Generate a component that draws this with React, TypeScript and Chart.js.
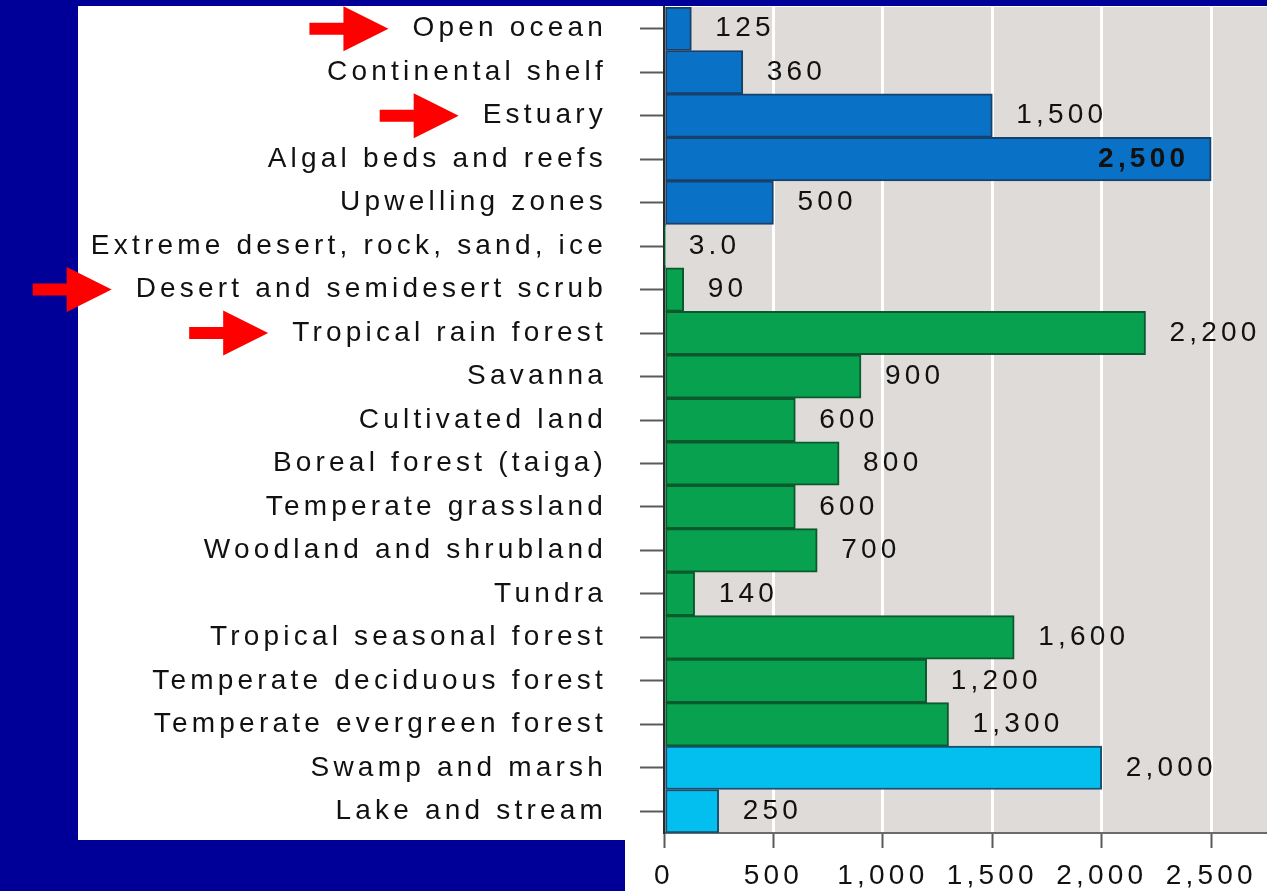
import { useEffect, useRef } from "react";
import { Chart, registerables } from "chart.js";

Chart.register(...registerables);

// Net primary productivity by ecosystem (g/m²/yr)
const categories: string[] = [
  "Open ocean",
  "Continental shelf",
  "Estuary",
  "Algal beds and reefs",
  "Upwelling zones",
  "Extreme desert, rock, sand, ice",
  "Desert and semidesert scrub",
  "Tropical rain forest",
  "Savanna",
  "Cultivated land",
  "Boreal forest (taiga)",
  "Temperate grassland",
  "Woodland and shrubland",
  "Tundra",
  "Tropical seasonal forest",
  "Temperate deciduous forest",
  "Temperate evergreen forest",
  "Swamp and marsh",
  "Lake and stream",
];

const productivity: number[] = [
  125, 360, 1500, 2500, 500, 3.0, 90, 2200, 900, 600, 800, 600, 700, 140, 1600,
  1200, 1300, 2000, 250,
];

// ecosystem group of each category
const groups: string[] = [
  "marine", "marine", "marine", "marine", "marine",
  "terrestrial", "terrestrial", "terrestrial", "terrestrial", "terrestrial",
  "terrestrial", "terrestrial", "terrestrial", "terrestrial", "terrestrial",
  "terrestrial", "terrestrial",
  "freshwater", "freshwater",
];

const highlighted: string[] = [
  "Open ocean",
  "Estuary",
  "Desert and semidesert scrub",
  "Tropical rain forest",
];

const xTickValues: number[] = [0, 500, 1000, 1500, 2000, 2500];

const groupFill: Record<string, string> = {
  marine: "#0a72c6",
  terrestrial: "#08a14f",
  freshwater: "#02bff0",
};
const groupBorder: Record<string, string> = {
  marine: "#17416a",
  terrestrial: "#0b5a2e",
  freshwater: "#1b4f6e",
};

const FONT = "'Liberation Sans', Arial, Helvetica, sans-serif";
const SPACING = "4.2px";
const PAGE_BLUE = "#000099";

const Y_TICK_LEN = 24;
const Y_TICK_PAD = 33;

function formatValue(v: number): string {
  return v < 10 ? v.toFixed(1) : v.toLocaleString("en-US");
}

const spacingPlugin = {
  id: "letterSpacing",
  beforeLayout(chart: any) {
    chart.ctx.letterSpacing = SPACING;
  },
  beforeDraw(chart: any) {
    chart.ctx.letterSpacing = SPACING;
  },
};

const backdropPlugin = {
  id: "backdrop",
  beforeDraw(chart: any) {
    const { ctx, width, height, chartArea } = chart;
    ctx.save();
    ctx.fillStyle = PAGE_BLUE;
    ctx.fillRect(0, 0, width, height);
    ctx.fillStyle = "#ffffff";
    // label panel
    ctx.fillRect(78, 6, 625 - 78, 840 - 6);
    // axis panel
    ctx.fillRect(625, 6, width - 625, height - 6);
    ctx.fillStyle = "#dfdbd8";
    ctx.fillRect(
      chartArea.left,
      chartArea.top,
      chartArea.right - chartArea.left,
      chartArea.bottom - chartArea.top
    );
    ctx.restore();
  },
};

const valueLabelPlugin = {
  id: "valueLabels",
  afterDatasetsDraw(chart: any) {
    const { ctx, chartArea } = chart;
    const meta = chart.getDatasetMeta(0);
    ctx.save();
    ctx.letterSpacing = SPACING;
    ctx.textBaseline = "middle";
    ctx.fillStyle = "#111111";
    meta.data.forEach((bar: any, i: number) => {
      const text = formatValue(productivity[i]);
      ctx.font = `28px ${FONT}`;
      ctx.textAlign = "left";
      const w = ctx.measureText(text).width;
      let x = bar.x + 24;
      if (x + w > chartArea.right) {
        ctx.font = `bold 28px ${FONT}`;
        ctx.textAlign = "right";
        x = bar.x - 22;
      }
      ctx.fillText(text, x, bar.y);
    });
    ctx.restore();
  },
};

const arrowPlugin = {
  id: "arrows",
  afterDraw(chart: any) {
    const { ctx, chartArea } = chart;
    const yScale = chart.scales.y;
    const anchor = chartArea.left - Y_TICK_LEN - Y_TICK_PAD;
    ctx.save();
    ctx.letterSpacing = SPACING;
    ctx.font = `28px ${FONT}`;
    ctx.fillStyle = "#ff0000";
    highlighted.forEach((name) => {
      const idx = categories.indexOf(name);
      if (idx < 0) return;
      const y = yScale.getPixelForTick(idx);
      const left = anchor - ctx.measureText(name).width;
      const tip = left - 24;
      const headLen = 45;
      const shaftLen = 34;
      const headHalf = 22.5;
      const shaftHalf = 6;
      ctx.beginPath();
      ctx.moveTo(tip - headLen - shaftLen, y - shaftHalf);
      ctx.lineTo(tip - headLen, y - shaftHalf);
      ctx.lineTo(tip - headLen, y - headHalf);
      ctx.lineTo(tip, y);
      ctx.lineTo(tip - headLen, y + headHalf);
      ctx.lineTo(tip - headLen, y + shaftHalf);
      ctx.lineTo(tip - headLen - shaftLen, y + shaftHalf);
      ctx.closePath();
      ctx.fill();
    });
    ctx.restore();
  },
};

export default function App() {
  const canvasRef = useRef<HTMLCanvasElement | null>(null);

  useEffect(() => {
    const canvas = canvasRef.current;
    if (!canvas) return;
    const chart = new Chart(canvas, {
      type: "bar",
      data: {
        labels: categories,
        datasets: [
          {
            data: productivity,
            backgroundColor: groups.map((g) => groupFill[g]),
            borderColor: groups.map((g) => groupBorder[g]),
            borderWidth: 2,
            borderSkipped: false,
            barPercentage: 1,
            categoryPercentage: 1,
          },
        ],
      },
      options: {
        indexAxis: "y",
        responsive: false,
        animation: false,
        layout: { padding: { top: 7, left: 0, right: 0, bottom: 0 } },
        plugins: {
          legend: { display: false },
          tooltip: { enabled: false },
        },
        scales: {
          x: {
            type: "linear",
            min: 0,
            max: 2755,
            afterBuildTicks(scale: any) {
              scale.ticks = xTickValues.map((v) => ({ value: v }));
            },
            afterFit(scale: any) {
              scale.height = 58;
              scale.paddingLeft = 0;
              scale.paddingRight = 0;
            },
            grid: {
              color: "#ffffff",
              lineWidth: 3,
              drawTicks: true,
              tickLength: 15,
              tickColor: "#5a5a5a",
              tickWidth: 2,
            },
            border: { display: true, color: "#6a6a6a", width: 2 },
            ticks: {
              color: "#111111",
              font: { family: FONT, size: 28 },
              padding: 11,
              maxRotation: 0,
              autoSkip: false,
              callback: (v: any) => Number(v).toLocaleString("en-US"),
            },
          },
          y: {
            type: "category",
            afterFit(scale: any) {
              scale.width = 664;
              scale.paddingTop = 0;
              scale.paddingBottom = 0;
            },
            grid: {
              offset: false,
              drawOnChartArea: false,
              drawTicks: true,
              tickLength: Y_TICK_LEN,
              tickColor: "#5a5a5a",
              tickWidth: 2,
            },
            border: { display: true, color: "#2a2a2a", width: 2 },
            ticks: {
              color: "#111111",
              font: { family: FONT, size: 28 },
              padding: Y_TICK_PAD,
              autoSkip: false,
            },
          },
        },
      },
      plugins: [spacingPlugin, backdropPlugin, valueLabelPlugin, arrowPlugin],
    });
    return () => chart.destroy();
  }, []);

  return (
    <div
      style={{
        position: "fixed",
        left: 0,
        top: 0,
        width: 1267,
        height: 891,
        background: PAGE_BLUE,
      }}
    >
      <canvas ref={canvasRef} width={1267} height={891} />
    </div>
  );
}
